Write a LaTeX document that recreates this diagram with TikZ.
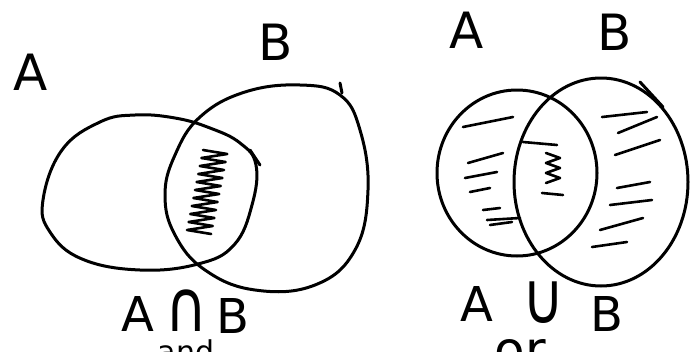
\documentclass[tikz,border=0pt]{standalone}
\usepackage{fontspec}
\setmainfont{DejaVu Sans}
\usepackage{tikz}
\usetikzlibrary{positioning}
\tikzset{
  % --- pen strokes ------------------------------------------------------------
  pen/.style={line width=3pt,line cap=round,line join=round},
  hatch/.style={line width=2.6pt,line cap=round,line join=round},
  % --- handwritten labels -----------------------------------------------------
  setlab/.style={inner sep=0pt,font=\fontsize{50}{50}\selectfont},
  oplab/.style={inner sep=0pt,font=\fontsize{48}{48}\selectfont},
  wordlab/.style={inner sep=0pt,anchor=base},
}
\newcommand{\tallop}[1]{\raisebox{0pt}[\height][0pt]{\scalebox{1.2}[1.5]{#1}}}

\begin{document}
\begin{tikzpicture}[x=1pt, y=-1pt]
  \clip (0,0) rectangle (699,351);
  \fill[white] (0,0) rectangle (699,351);

  % left picture: intersection
  \node[setlab] (tA1) at (31,72)  {A};
  \node[setlab] (tB1) at (276,42) {B};

  \draw[pen] plot[smooth cycle,tension=0.7] coordinates {
    (43,200) (62,150) (100,122) (135,115) (175,118) (210,128) (240,143)
    (256,165) (252,205) (234,245) (198,264) (140,270) (82,259) (50,232)};
  \draw[pen] (250,150) -- (260,165);
  \draw[pen] plot[smooth cycle,tension=0.7] coordinates {
    (200,117) (245,92) (300,85) (340,95) (360,130) (368,190) (355,250)
    (315,285) (255,290) (205,270) (175,235) (165,195) (175,155)};
  \draw[pen] (340,83) -- (342,93);

  % scribble in the lens
  \draw[hatch] (203,150) \foreach \i in {1,...,21}{
    -- ({203-0.8*\i+mod(\i,2)*25},{150+4*\i}) };

  \node[oplab] (cA1) at (138,314) {A};
  \node[oplab] (cap) at (187,311) {\tallop{∩}};
  \node[oplab] (cB1) at (233,316) {B};
  \node[wordlab,font=\fontsize{30}{30}\selectfont] (w1) at (186,362) {and};

  % right picture: union
  \node[setlab] (tA2) at (467,30) {A};
  \node[setlab] (tB2) at (615,32) {B};

  \draw[pen] (517,173) ellipse (80 and 83);
  \draw[pen] (601,182) ellipse (87 and 104);
  \draw[pen] (640,82) -- (663,107);

  % strokes in A only
  \draw[hatch] (463,127) -- (513,117);
  \draw[hatch] (468,163) -- (503,153);
  \draw[hatch] (465,178) -- (497,172);
  \draw[hatch] (470,192) -- (490,188);
  \draw[hatch] (483,210) -- (500,208);
  \draw[hatch] (487,220) -- (520,218);
  \draw[hatch] (490,225) -- (512,222);
  % strokes in the lens
  \draw[hatch] (523,142) -- (557,145);
  \draw[hatch] (546,153) \foreach \i in {1,...,6}{
    -- ({546+mod(\i,2)*14},{153+5*\i}) };
  \draw[hatch] (542,193) -- (563,195);
  % strokes in B only
  \draw[hatch] (602,117) -- (647,112);
  \draw[hatch] (618,133) -- (657,117);
  \draw[hatch] (615,155) -- (660,140);
  \draw[hatch] (617,188) -- (650,182);
  \draw[hatch] (610,205) -- (652,200);
  \draw[hatch] (600,230) -- (643,218);
  \draw[hatch] (592,247) -- (627,242);

  \node[oplab] (cA2) at (477,304) {A};
  \node[oplab] (cup) at (544,303) {\tallop{∪}};
  \node[oplab] (cB2) at (607,314) {B};
  \node[wordlab,font=\fontsize{50}{50}\selectfont] (w2) at (520,367) {or};
\end{tikzpicture}
\end{document}
